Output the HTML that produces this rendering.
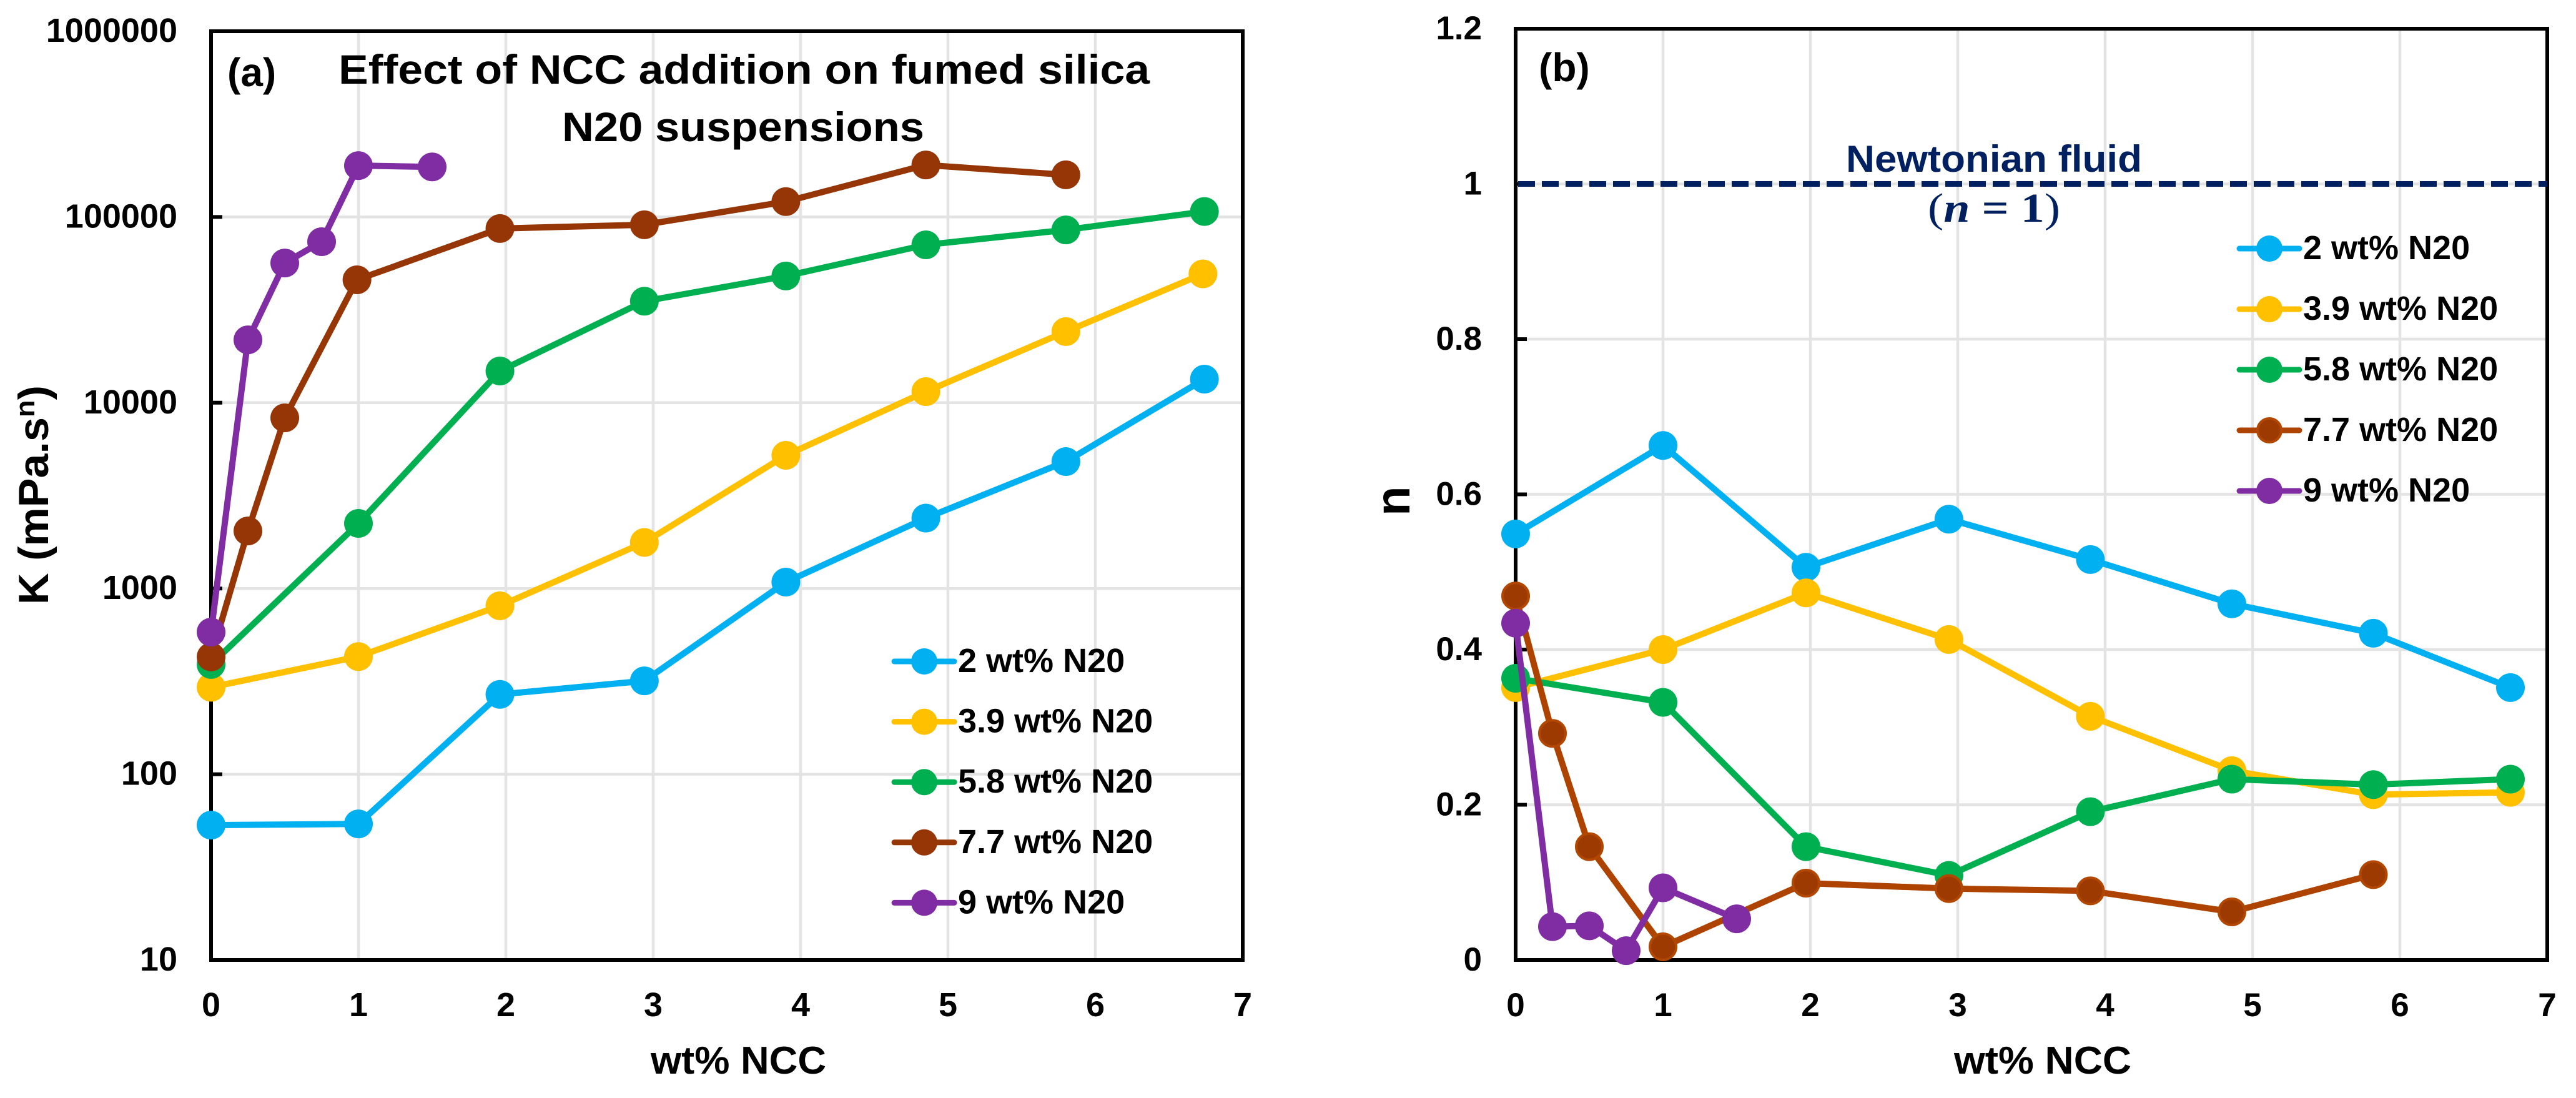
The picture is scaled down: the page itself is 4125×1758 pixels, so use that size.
<!DOCTYPE html>
<html lang="en">
<head>
<meta charset="utf-8">
<title>Effect of NCC addition on fumed silica N20 suspensions</title>
<style>
html,body{margin:0;padding:0;background:#fff;}
svg{display:block;}
text{font-family:"Liberation Sans",Arial,sans-serif;font-weight:bold;fill:#000;}
</style>
</head>
<body>
<svg id="figure" xmlns="http://www.w3.org/2000/svg" width="4125" height="1758" viewBox="0 0 4125 1758">
  <rect x="0" y="0" width="4125" height="1758" fill="#ffffff"/>
  <g id="panel-a"></g>
  <g id="panel-b"></g>

  <text x="364" y="138" font-size="64">(a)</text>
  <text x="542" y="134" font-size="66" textLength="1299" lengthAdjust="spacingAndGlyphs">Effect of NCC addition on fumed silica</text>
  <text x="900" y="226" font-size="66" textLength="580" lengthAdjust="spacingAndGlyphs">N20 suspensions</text>
  <text x="1042" y="1719" font-size="62" textLength="281" lengthAdjust="spacingAndGlyphs">wt% NCC</text>
  <text transform="translate(77,968) rotate(-90)" font-size="68" textLength="351" lengthAdjust="spacingAndGlyphs">K (mPa.s<tspan font-size="44" dy="-22">n</tspan><tspan dy="22">)</tspan></text>

  <text x="2464" y="130" font-size="64">(b)</text>
  <text x="2956" y="275" font-size="60" textLength="474" lengthAdjust="spacingAndGlyphs" style="fill:#002060">Newtonian fluid</text>
  <text x="3087" y="355" font-size="66" textLength="212" lengthAdjust="spacingAndGlyphs" style="fill:#002060;font-family:'Liberation Serif',serif"><tspan font-weight="normal">(</tspan><tspan font-style="italic">n</tspan> = 1<tspan font-weight="normal">)</tspan></text>
  <text x="3129" y="1719" font-size="62" textLength="284" lengthAdjust="spacingAndGlyphs">wt% NCC</text>
  <text transform="translate(2257,826) rotate(-90)" font-size="78">n</text>
</svg>

<script>
// ---- Shared data ----
const xTickLabels = [0, 1, 2, 3, 4, 5, 6, 7];
const seriesNames = ['2 wt% N20', '3.9 wt% N20', '5.8 wt% N20', '7.7 wt% N20', '9 wt% N20'];
const seriesSlugs = ['2-wt', '3-9-wt', '5-8-wt', '7-7-wt', '9-wt'];
const seriesColors = ['#00B0F0', '#FFC000', '#00B050', '#963606', '#802CA2'];

// ---- Panel (a): consistency index K, log scale ----
const kTickLabels = [10, 100, 1000, 10000, 100000, 1000000];
const kNcc2 = [0, 1, 1.96, 2.94, 3.9, 4.85, 5.8, 6.74];
const kValues2 = [53.2, 54, 269, 318, 1082, 2393, 4820, 13400];
const kNcc39 = [0, 1, 1.96, 2.94, 3.9, 4.85, 5.8, 6.73];
const kValues39 = [294, 430, 807, 1770, 5210, 11480, 24150, 49400];
const kNcc58 = [0, 1, 1.96, 2.94, 3.9, 4.85, 5.8, 6.74];
const kValues58 = [390, 2240, 14820, 35200, 48100, 70800, 85200, 107000];
const kNcc77 = [0, 0.25, 0.5, 0.99, 1.96, 2.94, 3.9, 4.85, 5.8];
const kValues77 = [428, 2040, 8290, 45900, 86700, 90800, 121000, 190600, 168600];
const kNcc9 = [0, 0.25, 0.5, 0.75, 1, 1.5];
const kValues9 = [582, 21800, 56500, 73600, 189000, 186000];

// ---- Panel (b): flow behaviour index n, linear scale ----
const nTickLabels = ['0', '0.2', '0.4', '0.6', '0.8', '1', '1.2'];
const nTickValues = [0, 0.2, 0.4, 0.6, 0.8, 1, 1.2];
const newtonianValue = 1;
const nNcc2 = [0, 1, 1.97, 2.94, 3.9, 4.86, 5.82, 6.75];
const nValues2 = [0.549, 0.663, 0.506, 0.568, 0.516, 0.459, 0.421, 0.351];
const nNcc39 = [0, 1, 1.97, 2.94, 3.9, 4.86, 5.82, 6.75];
const nValues39 = [0.351, 0.400, 0.473, 0.413, 0.314, 0.244, 0.213, 0.216];
const nNcc58 = [0, 1, 1.97, 2.94, 3.9, 4.86, 5.82, 6.75];
const nValues58 = [0.363, 0.332, 0.146, 0.109, 0.191, 0.233, 0.226, 0.233];
const nNcc77 = [0, 0.25, 0.5, 1, 1.97, 2.94, 3.9, 4.86, 5.82];
const nValues77 = [0.469, 0.292, 0.146, 0.017, 0.099, 0.092, 0.089, 0.062, 0.110];
const nNcc9 = [0, 0.25, 0.5, 0.75, 1, 1.5];
const nValues9 = [0.434, 0.043, 0.044, 0.012, 0.093, 0.053];

// ---- Layout ----
const SVG_NS = 'http://www.w3.org/2000/svg';
const X_MAX = 7;

function node(parent, tag) {
  const el = document.createElementNS(SVG_NS, tag);
  parent.appendChild(el);
  return el;
}

function drawPanel(opts) {
  const g = document.getElementById(opts.id);
  const p = opts.prefix;
  const sx = v => opts.left + (v / X_MAX) * (opts.right - opts.left);
  const sy = opts.scaleY;

  // gridlines
  xTickLabels.slice(1, -1).forEach(t => {
    const l = node(g, 'line');
    
    
    l.setAttribute('x1', sx(t)); l.setAttribute('x2', sx(t));
    l.setAttribute('y1', opts.top); l.setAttribute('y2', opts.bottom);
    l.setAttribute('stroke', '#E3E3E3'); l.setAttribute('stroke-width', 4.5);
  });
  opts.yValues.forEach((v, i) => {
    if (i === 0 || i === opts.yValues.length - 1) return;
    const l = node(g, 'line');
    
    
    l.setAttribute('x1', opts.left); l.setAttribute('x2', opts.right);
    l.setAttribute('y1', sy(v)); l.setAttribute('y2', sy(v));
    l.setAttribute('stroke', '#E3E3E3'); l.setAttribute('stroke-width', 4.5);
  });

  // plot frame
  const frame = node(g, 'rect');
  
  
  frame.setAttribute('x', opts.left); frame.setAttribute('y', opts.top);
  frame.setAttribute('width', opts.right - opts.left);
  frame.setAttribute('height', opts.bottom - opts.top);
  frame.setAttribute('fill', 'none');
  frame.setAttribute('stroke', '#000');
  frame.setAttribute('stroke-width', 6);

  // y ticks and labels
  opts.yValues.forEach((v, i) => {
    const tick = node(g, 'line');
    
    
    tick.setAttribute('x1', opts.left); tick.setAttribute('x2', opts.left + 18);
    tick.setAttribute('y1', sy(v)); tick.setAttribute('y2', sy(v));
    tick.setAttribute('stroke', '#000'); tick.setAttribute('stroke-width', 6);

    const t = node(g, 'text');
    
    
    t.setAttribute('x', opts.left - 54);
    t.setAttribute('y', sy(v) + 17);
    t.setAttribute('text-anchor', 'end');
    t.setAttribute('font-size', opts.tickFont);
    t.textContent = opts.yLabels[i];
  });

  // x tick labels
  xTickLabels.forEach(v => {
    const t = node(g, 'text');
    
    
    t.setAttribute('x', sx(v));
    t.setAttribute('y', 1627);
    t.setAttribute('text-anchor', 'middle');
    t.setAttribute('font-size', opts.tickFont);
    t.textContent = v;
  });

  // reference line (panel b only)
  if (opts.refValue !== undefined) {
    const r = node(g, 'line');
    
    
    r.setAttribute('x1', opts.left + 4); r.setAttribute('x2', opts.right);
    r.setAttribute('y1', sy(opts.refValue)); r.setAttribute('y2', sy(opts.refValue));
    r.setAttribute('stroke', '#002060'); r.setAttribute('stroke-width', 9);
    r.setAttribute('stroke-dasharray', '27 11');
  }

  // series
  opts.series.forEach((s, i) => {
    const color = opts.colors[i];
    const sg = node(g, 'g');
    
    

    const line = node(sg, 'polyline');
    
    
    line.setAttribute('points', s.xs.map((x, j) => sx(x) + ',' + sy(s.ys[j])).join(' '));
    line.setAttribute('fill', 'none');
    line.setAttribute('stroke', color);
    line.setAttribute('stroke-width', 10);
    line.setAttribute('stroke-linejoin', 'round');

    s.xs.forEach((x, j) => {
      const c = node(sg, 'circle');
      
      
      c.setAttribute('cx', sx(x));
      c.setAttribute('cy', sy(s.ys[j]));
      c.setAttribute('r', opts.rings[i] ? 21 : 23);
      c.setAttribute('fill', opts.fills[i]);
      if (opts.rings[i]) {
        c.setAttribute('stroke', opts.rings[i]);
        c.setAttribute('stroke-width', 4);
      }
    });
  });

  // legend
  const lg = node(g, 'g');
  
  
  seriesNames.forEach((name, i) => {
    const y = opts.legendY + i * opts.legendStep;
    const entry = node(lg, 'g');
    
    

    const l = node(entry, 'line');
    
    
    l.setAttribute('x1', opts.legendX - 48); l.setAttribute('x2', opts.legendX + 48);
    l.setAttribute('y1', y); l.setAttribute('y2', y);
    l.setAttribute('stroke', opts.colors[i]);
    l.setAttribute('stroke-width', 9);
    l.setAttribute('stroke-linecap', 'round');

    const c = node(entry, 'circle');
    
    
    c.setAttribute('cx', opts.legendX); c.setAttribute('cy', y);
    c.setAttribute('r', opts.rings[i] ? 19 : 21);
    c.setAttribute('fill', opts.fills[i]);
    if (opts.rings[i]) {
      c.setAttribute('stroke', opts.rings[i]);
      c.setAttribute('stroke-width', 4);
    }

    const t = node(entry, 'text');
    
    
    t.setAttribute('x', opts.legendX + 54);
    t.setAttribute('y', y + 17);
    t.setAttribute('font-size', 54);
    t.textContent = name;
  });
}

// Panel (a) axis function: log10 decades between 10 and 1,000,000
function yK(v) {
  const top = 50, bottom = 1537;
  const lo = Math.log10(kTickLabels[0]);
  const hi = Math.log10(kTickLabels[kTickLabels.length - 1]);
  return bottom - (Math.log10(v) - lo) / (hi - lo) * (bottom - top);
}

// Panel (b) axis function: linear 0 to 1.2
function yN(v) {
  const top = 46, bottom = 1537;
  return bottom - (v / nTickValues[nTickValues.length - 1]) * (bottom - top);
}

drawPanel({
  id: 'panel-a', prefix: 'panel-a',
  left: 338, right: 1990, top: 50, bottom: 1537,
  scaleY: yK,
  yValues: kTickLabels, yLabels: kTickLabels, tickFont: 54,
  colors: seriesColors, fills: seriesColors,
  rings: [null, null, null, null, null],
  legendX: 1480, legendY: 1059, legendStep: 96.6,
  series: [
    { xs: kNcc2, ys: kValues2 },
    { xs: kNcc39, ys: kValues39 },
    { xs: kNcc58, ys: kValues58 },
    { xs: kNcc77, ys: kValues77 },
    { xs: kNcc9, ys: kValues9 }
  ]
});

drawPanel({
  id: 'panel-b', prefix: 'panel-b',
  left: 2427, right: 4079, top: 46, bottom: 1537,
  scaleY: yN,
  yValues: nTickValues, yLabels: nTickLabels, tickFont: 53,
  colors: ['#00B0F0', '#FFC000', '#00B050', '#AE4300', '#802CA2'],
  fills: ['#00B0F0', '#FFC000', '#00B050', '#9C3A02', '#802CA2'],
  rings: [null, null, null, '#B24800', null],
  refValue: newtonianValue,
  legendX: 3634, legendY: 398, legendStep: 97,
  series: [
    { xs: nNcc2, ys: nValues2 },
    { xs: nNcc39, ys: nValues39 },
    { xs: nNcc58, ys: nValues58 },
    { xs: nNcc77, ys: nValues77 },
    { xs: nNcc9, ys: nValues9 }
  ]
});
</script>
</body>
</html>
